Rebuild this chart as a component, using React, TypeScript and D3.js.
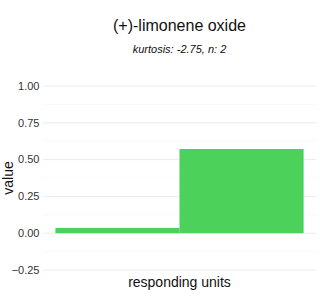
import React from "react";
import * as d3 from "d3";

const categories = ["a", "b"];
const values = [0.036, 0.572];
const yTicks = [-0.25, 0, 0.25, 0.5, 0.75, 1.0];
const yMinor = [-0.125, 0.125, 0.375, 0.625, 0.875];

export default function App() {
  const W = 320, H = 300;
  const left = 43, right = 316;
  const x = d3.scaleBand().domain(categories).range([left, right]).paddingInner(0).paddingOuter(0.1);
  const y = d3.scaleLinear().domain([-0.25, 1.0]).range([270, 86]);
  const font = "Liberation Sans, Arial, sans-serif";
  return (
    <svg width={W} height={H} style={{ position: "absolute", left: 0, top: 0, background: "#fff" }} fontFamily={font}>
      {yMinor.map((t) => (
        <line key={"m" + t} x1={left} x2={right} y1={y(t)} y2={y(t)} stroke="#f5f5f5" strokeWidth={0.6} />
      ))}
      {yTicks.map((t) => (
        <line key={"g" + t} x1={left} x2={right} y1={y(t)} y2={y(t)} stroke="#ebebeb" strokeWidth={1} />
      ))}
      {categories.map((c, i) => (
        <rect key={c} x={x(c)} width={x.bandwidth()} y={y(Math.max(0, values[i]))} height={Math.abs(y(values[i]) - y(0))} fill="#4CD15A" />
      ))}
      {yTicks.map((t) => (
        <text key={"t" + t} x={39.5} y={y(t)} dy="0.35em" textAnchor="end" fontSize={11} fill="#333">
          {d3.format(".2f")(t)}
        </text>
      ))}
      <text x={(left + right) / 2} y={31} textAnchor="middle" fontSize={16} fill="#111">(+)-limonene oxide</text>
      <text x={(left + right) / 2} y={53} textAnchor="middle" fontSize={11} fontStyle="italic" fill="#111">kurtosis: -2.75, n: 2</text>
      <text transform={`translate(12.5,${(86 + 270) / 2}) rotate(-90)`} textAnchor="middle" fontSize={14} fill="#111">value</text>
      <text x={(left + right) / 2} y={287} textAnchor="middle" fontSize={14} fill="#111">responding units</text>
    </svg>
  );
}
